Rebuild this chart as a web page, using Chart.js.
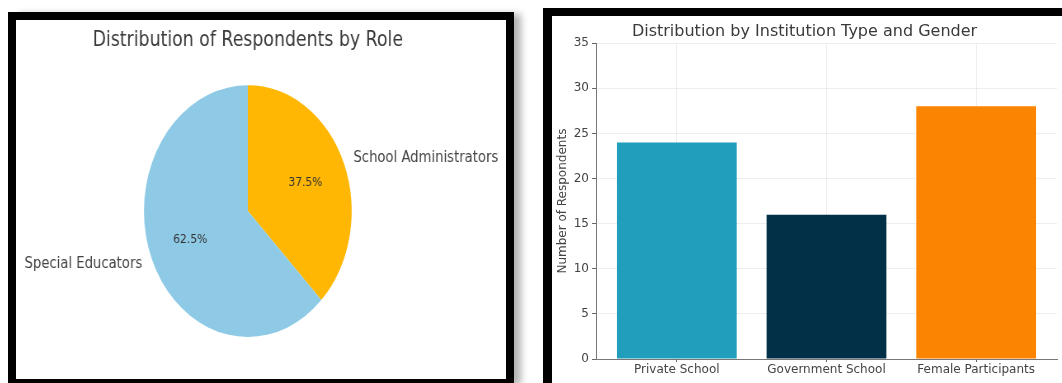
<!DOCTYPE html>
<html>
<head>
<meta charset="utf-8">
<script src="https://cdn.jsdelivr.net/npm/chart.js@4/dist/chart.umd.min.js"></script>
<style>
  html, body { margin: 0; padding: 0; background: #fff; overflow: hidden; }
  body { width: 1062px; height: 383px; position: relative; font-family: "DejaVu Sans", sans-serif; }
  .panel { position: absolute; box-sizing: border-box; background: #fff; border: 8px solid #000; }
  #panelPie { left: 8px; top: 12px; width: 506px; height: 375px; box-shadow: 9px 0 7px -2px rgba(0,0,0,0.3); }
  #panelBar { left: 543px; top: 8px; width: 560px; height: 390px; border-left-width: 9px; }
  /* pie picture is squeezed sideways in the original */
  #pieWrap { position: absolute; left: 0; top: 0; width: 594px; height: 359px; transform: scaleX(0.825); transform-origin: 0 0; }
  #barWrap { position: absolute; left: 0; top: 0; width: 510px; height: 365px; }
</style>
</head>
<body>
<div class="panel" id="panelPie"><div id="pieWrap"><canvas id="graficoRoles" width="594" height="359"></canvas></div></div>
<div class="panel" id="panelBar"><div id="barWrap"><canvas id="graficoInstitucion" width="510" height="365"></canvas></div></div>

<script>
// --- data ---
const roleLabels = ["School Administrators", "Special Educators"];
const roleCounts = [15, 25];
const roleColors = ["#FFB703", "#8ECAE6"];

const instCategories = ["Private School", "Government School", "Female Participants"];
const instCounts = [24, 16, 28];
const instColors = ["#219EBC", "#023047", "#FB8500"];

const yTicksMax = 35;
const yTicksStep = 5;

const FONT = "'DejaVu Sans', sans-serif";

// ===========================
// PIE
// ===========================
// labels outside (1.1 r) and percentages inside (0.6 r), like matplotlib autopct
const pieLabels = {
  id: "pieLabels",
  afterDatasetsDraw(chart) {
    const ctx = chart.ctx;
    const meta = chart.getDatasetMeta(0);
    const data = chart.data.datasets[0].data;
    const total = data.reduce((a, b) => a + b, 0);
    ctx.save();
    ctx.textBaseline = "middle";
    meta.data.forEach((arc, i) => {
      const mid = (arc.startAngle + arc.endAngle) / 2;
      const r = arc.outerRadius;
      const cos = Math.cos(mid), sin = Math.sin(mid);

      ctx.fillStyle = "#444";
      ctx.font = "16px " + FONT;
      ctx.textAlign = cos >= 0 ? "left" : "right";
      ctx.fillText(chart.data.labels[i], arc.x + cos * r * 1.1, arc.y + sin * r * 1.1);

      ctx.fillStyle = "#333";
      ctx.font = "13px " + FONT;
      ctx.textAlign = "center";
      const pct = (data[i] / total * 100).toFixed(1) + "%";
      ctx.fillText(pct, arc.x + cos * r * 0.6, arc.y + sin * r * 0.6);
    });
    ctx.restore();
  }
};

new Chart(document.getElementById("graficoRoles"), {
  type: "pie",
  data: {
    labels: roleLabels,
    datasets: [{
      data: roleCounts,
      backgroundColor: roleColors,
      borderWidth: 0
    }]
  },
  options: {
    responsive: false,
    animation: false,
    layout: { padding: { top: 0, bottom: 42, left: 0, right: 32 } },
    plugins: {
      legend: { display: false },
      tooltip: { enabled: false },
      title: {
        display: true,
        text: "Distribution of Respondents by Role",
        color: "#3a3a3a",
        font: { family: FONT, size: 21, weight: "normal" },
        padding: { top: 8, bottom: 32 }
      }
    }
  },
  plugins: [pieLabels]
});

// ===========================
// BARS
// ===========================
new Chart(document.getElementById("graficoInstitucion"), {
  type: "bar",
  data: {
    datasets: [{
      data: instCounts.map((v, i) => ({ x: i, y: v })),
      backgroundColor: instColors,
      borderWidth: 0,
      categoryPercentage: 1,
      barPercentage: 0.8
    }]
  },
  options: {
    responsive: false,
    animation: false,
    layout: { padding: { top: 0, bottom: 0, left: 0, right: 5 } },
    plugins: {
      legend: { display: false },
      tooltip: { enabled: false },
      title: {
        display: true,
        text: "Distribution by Institution Type and Gender",
        color: "#3a3a3a",
        font: { family: FONT, size: 16, weight: "normal" },
        padding: { top: 6, bottom: 2 }
      }
    },
    scales: {
      x: {
        type: "linear",
        offset: false,
        min: -0.54,
        max: instCategories.length - 0.46,
        z: 1,
        grid: { offset: false, color: "rgba(200,200,200,0.3)", tickLength: 3, tickColor: "#666" },
        border: { color: "#777" },
        afterFit: (s) => { s.height = 22; },
        ticks: {
          stepSize: 1,
          includeBounds: false,
          autoSkip: false,
          maxRotation: 0,
          padding: 1,
          color: "#444",
          font: { family: FONT, size: 12 },
          callback: (v) => instCategories[v] ?? ""
        }
      },
      y: {
        min: 0,
        max: yTicksMax,
        z: 1,
        grid: { color: "rgba(200,200,200,0.3)", tickLength: 4, tickColor: "#666" },
        border: { color: "#777" },
        afterFit: (s) => { s.width = 44; },
        ticks: {
          stepSize: yTicksStep,
          padding: 3,
          color: "#444",
          font: { family: FONT, size: 12 }
        },
        title: {
          display: true,
          text: "Number of Respondents",
          color: "#444",
          font: { family: FONT, size: 12 },
          padding: { top: 4, bottom: 0 }
        }
      }
    }
  }
});
</script>
</body>
</html>
